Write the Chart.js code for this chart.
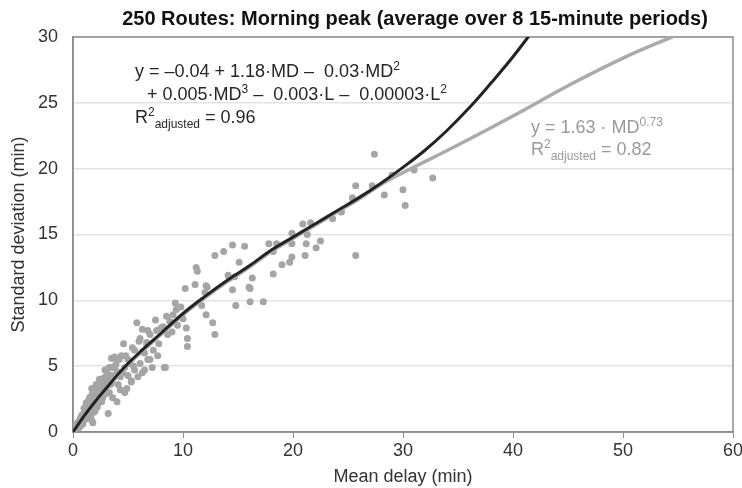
<!DOCTYPE html>
<html>
<head>
<meta charset="utf-8">
<script src="https://cdn.jsdelivr.net/npm/chart.js@4.4.1/dist/chart.umd.min.js"></script>
<style>
    html, body { margin: 0; padding: 0; background: #fff; }
    #wrap { width: 742px; height: 488px; }
</style>
</head>
<body>
<div id="wrap"><canvas id="scatter"></canvas></div>
<script>
// observed routes: mean delay (min) and standard deviation (min)
var meanDelay = [
    0.1, 0.2, 0.3, 0.3, 0.4, 0.5, 0.5, 0.6, 0.6, 0.7, 0.7, 0.8, 0.8, 0.9, 0.9, 1.0, 1.0, 1.1, 1.1, 1.2,
    1.2, 1.3, 1.3, 1.4, 1.4, 1.5, 1.5, 1.6, 1.6, 1.7, 1.7, 1.8, 1.8, 1.8, 1.9, 1.9, 2.0, 2.0, 2.1, 2.2,
    2.2, 2.3, 2.3, 2.4, 2.5, 2.5, 2.6, 2.7, 2.7, 2.8, 2.9, 2.9, 3.0, 3.1, 3.2, 3.2, 3.4, 3.5, 3.5, 3.6,
    3.6, 3.7, 3.8, 4.0, 4.0, 4.3, 4.3, 4.4, 4.6, 4.7, 4.7, 4.9, 5.0, 5.2, 5.3, 5.3, 5.6, 5.6, 5.8, 5.9,
    6.1, 6.1, 6.3, 6.3, 6.3, 6.5, 6.7, 6.7, 6.8, 6.8, 7.0, 7.2, 7.5, 7.6, 7.7, 7.8, 8.2, 8.3, 8.4, 8.5,
    8.6, 9.1, 9.3, 9.4, 9.5, 10.2, 10.3, 10.4, 10.4, 11.1, 11.2, 11.3, 11.7, 12.0, 12.1, 12.1, 12.2, 12.7, 12.9, 12.9,
    13.7, 14.1, 14.2, 14.5, 14.5, 14.7, 14.8, 15.1, 15.6, 16.0, 16.1, 16.1, 16.3, 17.3, 17.8, 18.2, 18.2, 18.5, 19.0, 19.7,
    19.9, 19.9, 19.9, 20.9, 21.1, 21.2, 21.3, 21.6, 22.1, 22.5, 23.6, 24.4, 25.4, 25.7, 25.7, 27.2, 27.4, 28.3, 29.0, 30.0,
    30.2, 31.0, 32.7,
    0.2, 0.4, 0.6, 0.8, 1.0, 1.2, 1.3, 1.5, 1.6, 1.7, 1.9, 2.0, 2.1, 2.2, 2.4, 2.4, 2.6, 2.8, 3.0, 3.0,
    3.3, 3.3, 3.5, 3.9, 4.1, 4.2, 4.5, 4.8, 5.0, 5.4, 5.5, 6.0, 6.5, 7.0, 7.3, 8.0, 8.8, 9.0, 9.8, 10.0
];
var stdDev = [
    0.1, 0.3, 0.2, 0.5, 0.4, 0.7, 0.3, 0.6, 0.9, 0.5, 1.1, 0.8, 1.3, 0.6, 1.0, 1.4, 0.9, 1.2, 1.7, 1.0,
    1.5, 2.0, 1.3, 1.8, 2.4, 1.5, 2.1, 2.7, 1.8, 2.3, 0.9, 3.0, 2.0, 0.7, 2.6, 1.5, 3.2, 2.2, 2.8, 3.5,
    1.9, 2.2, 3.1, 2.6, 3.8, 2.9, 3.3, 3.4, 2.6, 4.1, 3.0, 4.7, 3.6, 4.5, 1.4, 3.9, 3.6, 5.6, 4.3, 4.9,
    2.6, 5.6, 5.7, 2.3, 4.6, 4.2, 3.2, 5.8, 6.7, 4.9, 3.0, 3.3, 5.5, 5.2, 3.9, 3.8, 4.7, 6.2, 8.3, 4.2,
    5.2, 7.1, 4.5, 7.8, 6.1, 4.7, 6.6, 6.8, 7.7, 5.5, 5.5, 4.9, 8.5, 7.7, 5.8, 6.7, 8.0, 4.9, 4.9, 8.8,
    7.4, 8.9, 9.8, 9.3, 8.1, 10.9, 7.9, 7.1, 6.5, 11.2, 12.5, 12.2, 9.6, 10.6, 8.9, 11.1, 11.0, 8.3, 7.4, 13.4,
    13.7, 11.9, 11.7, 14.2, 10.8, 11.8, 9.6, 12.9, 14.1, 11.0, 10.9, 9.9, 11.7, 9.9, 14.3, 13.7, 12.0, 14.3, 12.7, 12.9,
    13.3, 14.3, 15.1, 15.8, 13.4, 14.3, 15.0, 15.9, 14.0, 14.5, 16.2, 16.7, 17.8, 18.7, 13.4, 18.7, 21.1, 18.0, 19.5, 18.4,
    17.2, 19.9, 19.3,
    0.1, 0.7, 0.4, 1.0, 1.8, 2.2, 1.6, 2.6, 1.2, 3.3, 2.2, 1.6, 3.6, 2.6, 3.0, 4.0, 2.3, 3.7, 2.9, 4.2,
    4.9, 3.0, 3.7, 5.1, 3.6, 5.5, 4.5, 5.8, 4.3, 6.4, 5.0, 6.9, 6.0, 7.4, 6.2, 7.9, 8.4, 7.6, 9.5, 8.6
];

// fitted curves
var polyX = [0, 1, 2, 3, 4, 5, 6, 8, 10, 12, 14, 16, 18, 20, 22, 24, 26, 28, 30, 32, 34, 36, 38, 40, 42];
var polyY = [0, 1.2, 2.3, 3.3, 4.3, 5.2, 6.0, 7.5, 9.0, 10.3, 11.5, 12.6, 13.8, 14.8, 15.8, 16.8, 17.8, 18.9, 20.1, 21.4, 22.9, 24.6, 26.5, 28.5, 30.7];
var powerX = [0, 1, 2, 3, 4, 5, 6, 8, 10, 12, 14, 16, 18, 20, 22, 24, 26, 28, 30, 35, 40, 45, 50, 55];
var powerY = [0, 1.1, 2.2, 3.2, 4.2, 5.1, 5.9, 7.4, 8.9, 10.2, 11.4, 12.5, 13.7, 14.7, 15.7, 16.7, 17.7, 18.8, 19.7, 21.8, 24.0, 26.3, 28.4, 30.2];

var yTicks = [0, 5, 10, 15, 20, 25, 30];
var xTicks = [0, 10, 20, 30, 40, 50, 60];

var fontFamily = '"Liberation Sans", Arial, sans-serif';

function toPoints(xs, ys) {
    return xs.map(function(x, i) { return { x: x, y: ys[i] }; });
}

// draws text pieces side by side, some raised or lowered
function drawRuns(ctx, x, y, runs, color) {
    ctx.fillStyle = color;
    ctx.textBaseline = 'alphabetic';
    ctx.textAlign = 'left';
    runs.forEach(function(r) {
        ctx.font = (r.size || 18) + 'px ' + fontFamily;
        ctx.fillText(r.t, x, y + (r.dy || 0));
        x += ctx.measureText(r.t).width;
    });
}

var notes = {
    id: 'notes',
    beforeDatasetsDraw: function(chart) {
        var a = chart.chartArea, ctx = chart.ctx;
        ctx.save();
        ctx.strokeStyle = '#8c8c8c';
        ctx.lineWidth = 1.5;
        ctx.strokeRect(a.left, a.top, a.right - a.left, a.bottom - a.top);
        ctx.restore();
    },
    afterDraw: function(chart) {
        var a = chart.chartArea, ctx = chart.ctx;
        ctx.save();
        ctx.fillStyle = '#111';
        ctx.font = 'bold 20px ' + fontFamily;
        ctx.textAlign = 'center';
        ctx.textBaseline = 'middle';
        ctx.fillText('250 Routes: Morning peak (average over 8 15-minute periods)', a.left + 342, 19);

        var dark = '#262626', light = '#9a9a9a';
        drawRuns(ctx, 135, 77, [
            { t: 'y = \u20130.04 + 1.18\u00b7MD \u2013  0.03\u00b7MD' },
            { t: '2', size: 12, dy: -7 }
        ], dark);
        drawRuns(ctx, 147, 100, [
            { t: '+ 0.005\u00b7MD' },
            { t: '3', size: 12, dy: -7 },
            { t: ' \u2013  0.003\u00b7L \u2013  0.00003\u00b7L' },
            { t: '2', size: 12, dy: -7 }
        ], dark);
        drawRuns(ctx, 135, 123, [
            { t: 'R' },
            { t: '2', size: 12, dy: -7 },
            { t: 'adjusted', size: 12, dy: 5 },
            { t: ' = 0.96' }
        ], dark);

        drawRuns(ctx, 531, 133, [
            { t: 'y = 1.63 \u00b7 MD' },
            { t: '0.73', size: 12, dy: -7 }
        ], light);
        drawRuns(ctx, 531, 155, [
            { t: 'R' },
            { t: '2', size: 12, dy: -7 },
            { t: 'adjusted', size: 12, dy: 5 },
            { t: ' = 0.82' }
        ], light);
        ctx.restore();
    }
};

var ctx = document.getElementById('scatter').getContext('2d');
window.myScatter = new Chart(ctx, {
    type: 'scatter',
    data: {
        datasets: [{
            label: 'Polynomial fit',
            data: toPoints(polyX, polyY),
            showLine: true,
            borderColor: '#232323',
            borderWidth: 3,
            pointRadius: 0,
            tension: 0.4,
            order: 0
        }, {
            label: 'Power fit',
            data: toPoints(powerX, powerY),
            showLine: true,
            borderColor: '#ababab',
            borderWidth: 3.5,
            pointRadius: 0,
            tension: 0.4,
            order: 1
        }, {
            label: 'Routes',
            data: toPoints(meanDelay, stdDev),
            backgroundColor: '#a5a5a5',
            borderWidth: 0,
            pointRadius: 3.5,
            order: 2
        }]
    },
    options: {
        responsive: true,
        maintainAspectRatio: false,
        animation: false,
        layout: {
            padding: { left: 0, right: 9, top: 37, bottom: 0 }
        },
        plugins: {
            legend: { display: false },
            tooltip: { enabled: false }
        },
        scales: {
            x: {
                type: 'linear',
                min: 0,
                max: 60,
                afterBuildTicks: function(s) {
                    s.ticks = xTicks.map(function(v) { return { value: v }; });
                },
                afterFit: function(s) {
                    s.height = 56;
                    s.paddingLeft = 0;
                    s.paddingRight = 0;
                },
                grid: { drawOnChartArea: false, drawTicks: true, tickLength: 6, color: '#8c8c8c' },
                border: { color: '#8c8c8c', width: 1.5 },
                ticks: { color: '#333', padding: 2, font: { family: fontFamily, size: 18 } },
                title: {
                    display: true,
                    text: 'Mean delay (min)',
                    color: '#333',
                    padding: { top: 0, bottom: 0 },
                    font: { family: fontFamily, size: 18 }
                }
            },
            y: {
                min: 0,
                max: 30,
                afterBuildTicks: function(s) {
                    s.ticks = yTicks.map(function(v) { return { value: v }; });
                },
                afterFit: function(s) {
                    s.width = 73;
                },
                grid: { color: '#e4e4e4', lineWidth: 1.5, drawTicks: false },
                border: { color: '#8c8c8c', width: 1.5 },
                ticks: { color: '#333', padding: 15, font: { family: fontFamily, size: 18 } },
                title: {
                    display: true,
                    text: 'Standard deviation (min)',
                    color: '#333',
                    padding: { top: 8, bottom: 0 },
                    font: { family: fontFamily, size: 18 }
                }
            }
        }
    },
    plugins: [notes]
});
</script>
</body>
</html>
